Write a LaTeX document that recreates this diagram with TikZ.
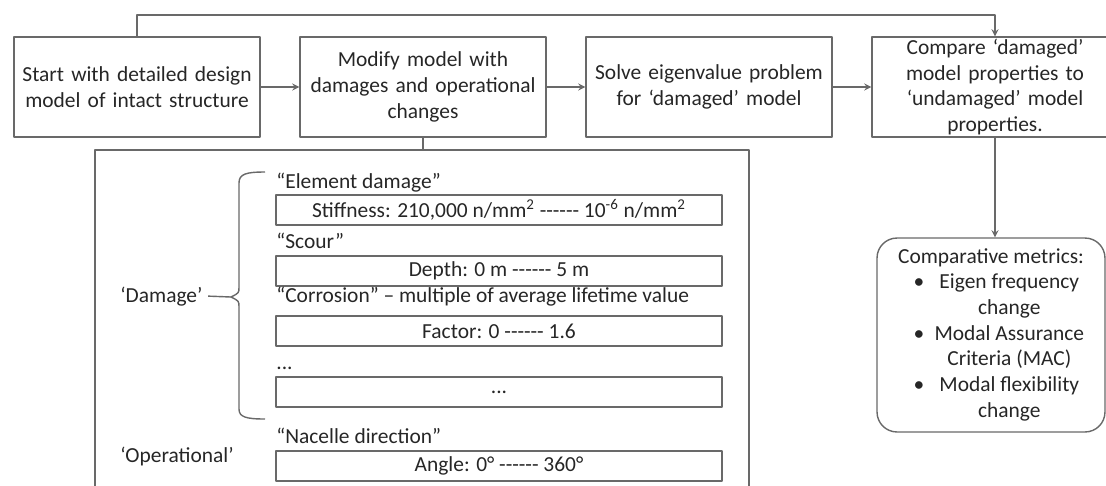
\documentclass[tikz,border=0pt]{standalone}
\usepackage{fontspec}
\setmainfont{Carlito}[Ligatures=TeXOff]
\definecolor{linegray}{RGB}{105,105,105}
\definecolor{inkgray}{RGB}{38,38,38}
\begin{document}
\begin{tikzpicture}[x=0.02cm, y=-0.02cm, line join=round, >=stealth,
	font=\fontsize{12.2}{14.6}\selectfont, text=inkgray,
	line/.style={draw=linegray, line width=0.8pt},
	stepbox/.style={line, minimum width=4.92cm, minimum height=2cm, text width=4.8cm, align=center, inner sep=0pt},
	rangebox/.style={line, minimum width=8.92cm, minimum height=0.6cm, inner sep=0pt},
	head/.style={anchor=base west, inner sep=0pt},
	metricbox/.style={line, rounded corners=0.4cm, minimum width=4.56cm, minimum height=3.88cm, inner sep=0pt}]
	\useasboundingbox (0,0) rectangle (1106,485);
	% top row
	\node[stepbox] (start) at (137,87) {Start with detailed design\\model of intact structure};
	\node[stepbox] (modify) at (423,87) {Modify model with\\damages and operational\\changes};
	\node[stepbox] (solve) at (709,87) {Solve eigenvalue problem\\for ‘damaged’ model};
	\node[stepbox] (compare) at (995,87) {Compare ‘damaged’\\model properties to\\‘undamaged’ model\\properties.};
	\node[metricbox] (metrics) at (991,335) {\begin{tabular}{@{\hspace{0.52cm}}c@{\hspace{0cm}}c@{}}
			\multicolumn{2}{c}{Comparative metrics:}\\
			\textbullet & Eigen frequency\\ & change\\
			\textbullet & Modal Assurance\\ & Criteria (MAC)\\
			\textbullet & Modal flexibility\\ & change
		\end{tabular}};
	\coordinate (fb) at (995,15);
	\draw[line,->] (start) -- (modify);
	\draw[line,->] (modify) -- (solve);
	\draw[line,->] (solve) -- (compare);
	\draw[line,->] (start.north) |- (fb) -- (compare.north);
	\draw[line,->] (compare.south) -- (compare.south |- metrics.north);
	% panel of changes
	\coordinate (pnw) at (95,150);
	\coordinate (pne) at (749,150);
	\draw[line] (modify.south) -- (modify.south |- pnw);
	\draw[line] (95,500) -- (pnw) -- (pne) -- (749,500);
	\node[head] (elemh) at (276,188) {“Element damage”};
	\node[rangebox] (elem) at (499,210) {Stiffness: 210,000 n/mm\textsuperscript{2} ------ 10\textsuperscript{-6} n/mm\textsuperscript{2}};
	\node[head] (scourh) at (276,248) {“Scour”};
	\node[rangebox] (scour) at (499,271) {Depth: 0 m ------ 5 m};
	\node[head] (corrh) at (276,302) {“Corrosion” – multiple of average lifetime value};
	\node[rangebox] (corr) at (499,331) {Factor: 0 ------ 1.6};
	\node[head] (moreh) at (276,369) {...};
	\node[rangebox] (more) at (499,392) {...};
	\node[head] (nach) at (276,443) {“Nacelle direction”};
	\node[rangebox] (nac) at (499,466) {Angle: 0° ------ 360°};
	\node[head] (damage) at (120,302) {‘Damage’};
	\node[head] (oper) at (120,462) {‘Operational’};
	% brace
	\coordinate (tip) at (231,297);
	\draw[line] (265,172) .. controls (246,172) and (239,174) .. (239,183) -- (239,287)
		.. controls (239,293) .. (tip) .. controls (239,301) .. (239,307) -- (239,409)
		.. controls (239,417) and (246,419) .. (265,419);
	\draw[line] ([xshift=3pt]damage.east) -- (tip);
\end{tikzpicture}
\end{document}
